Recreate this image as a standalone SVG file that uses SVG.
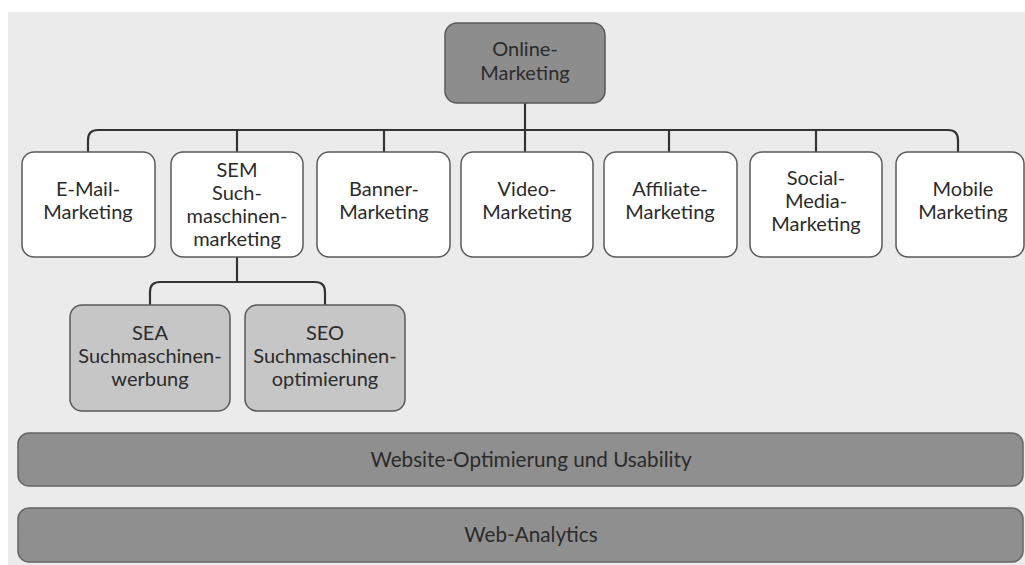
<svg xmlns="http://www.w3.org/2000/svg" width="1025" height="565" viewBox="0 0 1025 565">
<style>
text{font-family:Lato,"Open Sans","Liberation Sans",sans-serif;font-size:20px;fill:#2b2b2b;text-anchor:middle}
.w{fill:#ffffff;stroke:#5a5a5a;stroke-width:1.5}
.d{fill:#8d8d8d;stroke:#5a5a5a;stroke-width:1.5}
.l{fill:#c6c6c6;stroke:#5a5a5a;stroke-width:1.5}
.b{fill:#8f8f8f;stroke:#666;stroke-width:1.5}
.bt{font-size:20.7px}
.c{fill:none;stroke:#333;stroke-width:2.2}
</style>
<rect x="0" y="0" width="1025" height="565" fill="#ffffff"/>
<rect x="8" y="12" width="1017" height="553" fill="#ebebeb"/>
<g id="connectors">
<path class="c" d="M88,152 V140 Q88,130 98,130 H948 Q958,130 958,140 V152"/>
<path class="c" d="M525,103 V152"/>
<path class="c" d="M237,130 V152"/>
<path class="c" d="M384,130 V152"/>
<path class="c" d="M669,130 V152"/>
<path class="c" d="M816,130 V152"/>
<path class="c" d="M237,257 V282"/>
<path class="c" d="M150,305 V292 Q150,282 160,282 H315 Q325,282 325,292 V305"/>
</g>
<g id="online">
<rect class="d" x="445" y="23" width="160" height="80" rx="12"/>
<text x="525" y="56">Online-</text>
<text x="525" y="80">Marketing</text>
</g>
<g id="email">
<rect class="w" x="22" y="152" width="133" height="105" rx="12"/>
<text x="88" y="196">E-Mail-</text>
<text x="88" y="219">Marketing</text>
</g>
<g id="sem">
<rect class="w" x="171" y="152" width="132" height="105" rx="12"/>
<text x="237" y="177">SEM</text>
<text x="237" y="200">Such-</text>
<text x="237" y="223">maschinen-</text>
<text x="237" y="246">marketing</text>
</g>
<g id="banner">
<rect class="w" x="317" y="152" width="133" height="105" rx="12"/>
<text x="384" y="196">Banner-</text>
<text x="384" y="219">Marketing</text>
</g>
<g id="video">
<rect class="w" x="461" y="152" width="132" height="105" rx="12"/>
<text x="527" y="196">Video-</text>
<text x="527" y="219">Marketing</text>
</g>
<g id="affiliate">
<rect class="w" x="604" y="152" width="133" height="105" rx="12"/>
<text x="670" y="196">Affiliate-</text>
<text x="670" y="219">Marketing</text>
</g>
<g id="social">
<rect class="w" x="750" y="152" width="132" height="105" rx="12"/>
<text x="816" y="185">Social-</text>
<text x="816" y="208">Media-</text>
<text x="816" y="231">Marketing</text>
</g>
<g id="mobile">
<rect class="w" x="896" y="152" width="128" height="105" rx="12"/>
<text x="963" y="196">Mobile</text>
<text x="963" y="219">Marketing</text>
</g>
<g id="sea">
<rect class="l" x="70" y="305" width="160" height="106" rx="12"/>
<text x="150" y="340">SEA</text>
<text x="150" y="363">Suchmaschinen-</text>
<text x="150" y="386">werbung</text>
</g>
<g id="seo">
<rect class="l" x="245" y="305" width="160" height="106" rx="12"/>
<text x="325" y="340">SEO</text>
<text x="325" y="363">Suchmaschinen-</text>
<text x="325" y="386">optimierung</text>
</g>
<g id="website">
<rect class="b" x="18" y="433" width="1005" height="53" rx="11"/>
<text class="bt" x="531" y="467">Website-Optimierung und Usability</text>
</g>
<g id="analytics">
<rect class="b" x="18" y="508" width="1005" height="54" rx="11"/>
<text class="bt" x="531" y="542">Web-Analytics</text>
</g>
</svg>
